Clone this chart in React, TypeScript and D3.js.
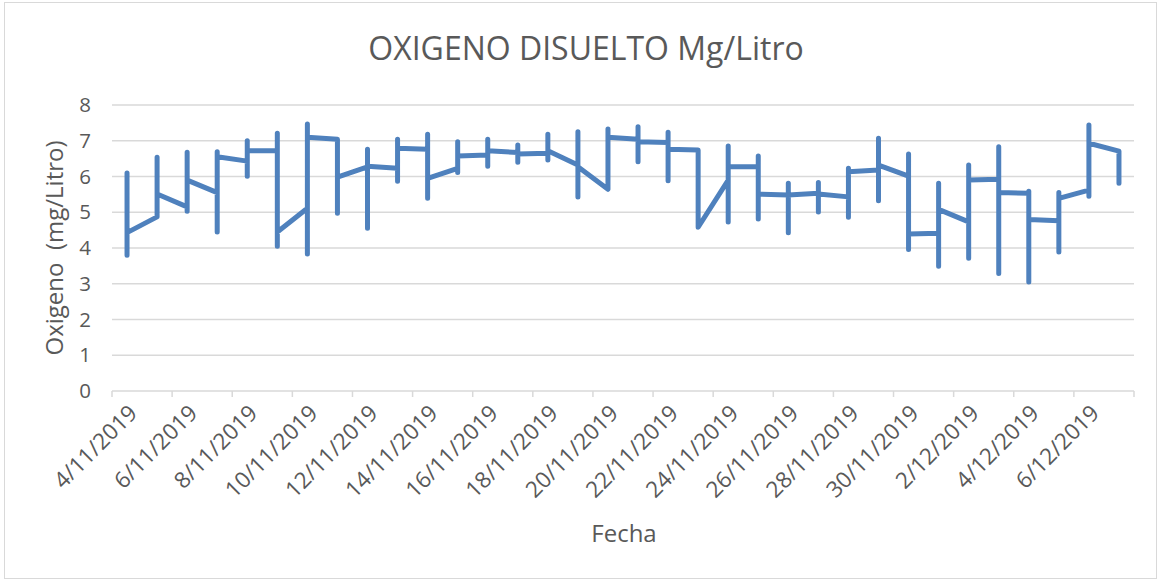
import React from 'react';
import * as d3 from 'd3';

// one entry per day; several readings per day, in the order they were taken
const fechas = [
  '4/11/2019', '5/11/2019', '6/11/2019', '7/11/2019', '8/11/2019', '9/11/2019',
  '10/11/2019', '11/11/2019', '12/11/2019', '13/11/2019', '14/11/2019', '15/11/2019',
  '16/11/2019', '17/11/2019', '18/11/2019', '19/11/2019', '20/11/2019', '21/11/2019',
  '22/11/2019', '23/11/2019', '24/11/2019', '25/11/2019', '26/11/2019', '27/11/2019',
  '28/11/2019', '29/11/2019', '30/11/2019', '1/12/2019', '2/12/2019', '3/12/2019',
  '4/12/2019', '5/12/2019', '6/12/2019', '7/12/2019',
];

const oxigeno = [
  [6.1, 3.8, 4.43],
  [4.87, 6.54, 5.51],
  [5.15, 5.03, 6.68, 5.9],
  [5.55, 4.45, 6.69, 6.55],
  [6.43, 6.01, 7.0, 6.72],
  [6.72, 7.21, 4.05, 4.45],
  [5.11, 3.83, 7.47, 7.1],
  [7.04, 4.97, 5.98],
  [6.27, 4.55, 6.76, 6.29],
  [6.23, 5.87, 7.04, 6.79],
  [6.76, 7.18, 5.39, 5.95],
  [6.23, 6.11, 6.97, 6.57],
  [6.6, 7.04, 6.29, 6.72],
  [6.67, 6.88, 6.4, 6.63],
  [6.65, 7.18, 6.46, 6.72],
  [6.32, 7.25, 5.43, 6.27],
  [5.64, 7.33, 7.1],
  [7.04, 7.39, 6.41, 6.97],
  [6.95, 7.24, 5.88, 6.76],
  [6.74, 4.58],
  [5.9, 4.73, 6.85, 6.27],
  [6.27, 6.57, 4.81, 5.51],
  [5.48, 5.81, 4.43, 5.48],
  [5.53, 5.83, 5.01, 5.51],
  [5.43, 4.86, 6.23, 6.13],
  [6.18, 7.07, 5.32, 6.32],
  [6.01, 6.63, 3.96, 4.39],
  [4.41, 3.49, 5.81, 5.08],
  [4.73, 3.71, 6.32, 5.9],
  [5.92, 6.83, 3.29, 5.55],
  [5.53, 5.59, 3.05, 4.8],
  [4.76, 3.89, 5.55, 5.39],
  [5.62, 5.45, 7.44, 6.93],
  [6.71, 5.81],
];

const yTicks = [0, 1, 2, 3, 4, 5, 6, 7, 8];

const xTickLabels = [
  '4/11/2019', '6/11/2019', '8/11/2019', '10/11/2019', '12/11/2019', '14/11/2019',
  '16/11/2019', '18/11/2019', '20/11/2019', '22/11/2019', '24/11/2019', '26/11/2019',
  '28/11/2019', '30/11/2019', '2/12/2019', '4/12/2019', '6/12/2019',
];

const font = "'Open Sans', sans-serif";
const textColor = '#595959';
const gridColor = '#d9d9d9';

export default function App() {
  const width = 1161;
  const height = 580;
  const margin = { top: 105, right: 27, bottom: 189, left: 112 };

  const parse = d3.timeParse('%d/%m/%Y');
  const dias = fechas.map((f) => parse(f) as Date);
  const inicio = dias[0];
  const fin = d3.timeDay.offset(dias[dias.length - 1], 1);

  const x = d3.scaleTime().domain([inicio, fin]).range([margin.left, width - margin.right]);
  const y = d3.scaleLinear().domain([0, 8]).range([height - margin.bottom, margin.top]);

  const puntos = dias.flatMap((d, i) =>
    oxigeno[i].map((v) => ({ fecha: d3.timeHour.offset(d, 12), v }))
  );

  const line = d3
    .line<{ fecha: Date; v: number }>()
    .x((p) => x(p.fecha))
    .y((p) => y(p.v));

  const marcas = d3.timeDay.range(inicio, d3.timeHour.offset(fin, 1), 2);
  const y0 = y(0);

  return (
    <svg
      width={width}
      height={height}
      style={{ position: 'absolute', left: 0, top: 0, background: '#fff' }}
      fontFamily={font}
    >
      <rect x={4.5} y={2.5} width={1152} height={576} fill="#fff" stroke={gridColor} />

      <text x={586} y={60} textAnchor="middle" fontSize={32} fill={textColor}>
        OXIGENO DISUELTO Mg/Litro
      </text>

      {yTicks.map((t) => (
        <g key={t}>
          <line
            x1={margin.left}
            x2={width - margin.right}
            y1={y(t)}
            y2={y(t)}
            stroke={gridColor}
            strokeWidth={1.5}
          />
          <text x={91} y={y(t)} dy="0.35em" textAnchor="end" fontSize={20.5} fill={textColor}>
            {t}
          </text>
        </g>
      ))}

      {marcas.map((m, i) => (
        <line key={i} x1={x(m)} x2={x(m)} y1={y0} y2={y0 + 6} stroke={gridColor} strokeWidth={1.5} />
      ))}

      {xTickLabels.map((lab) => {
        const d = parse(lab) as Date;
        const cx = x(d3.timeDay.offset(d, 1));
        return (
          <text
            key={lab}
            transform={`translate(${cx - 9},${y0 + 18}) rotate(-45)`}
            dy="0.35em"
            textAnchor="end"
            fontSize={22.5}
            fill={textColor}
          >
            {lab}
          </text>
        );
      })}

      <path
        d={line(puntos) || ''}
        fill="none"
        stroke="#4f81bd"
        strokeWidth={5}
        strokeLinecap="round"
        strokeLinejoin="round"
      />

      <text
        transform={`translate(63,${(y(0) + y(8)) / 2}) rotate(-90)`}
        textAnchor="middle"
        fontSize={24}
        fill={textColor}
        style={{ whiteSpace: 'pre' }}
      >
        {'Oxigeno  (mg/Litro)'}
      </text>

      <text x={624} y={542} textAnchor="middle" fontSize={24} fill={textColor}>
        Fecha
      </text>
    </svg>
  );
}
